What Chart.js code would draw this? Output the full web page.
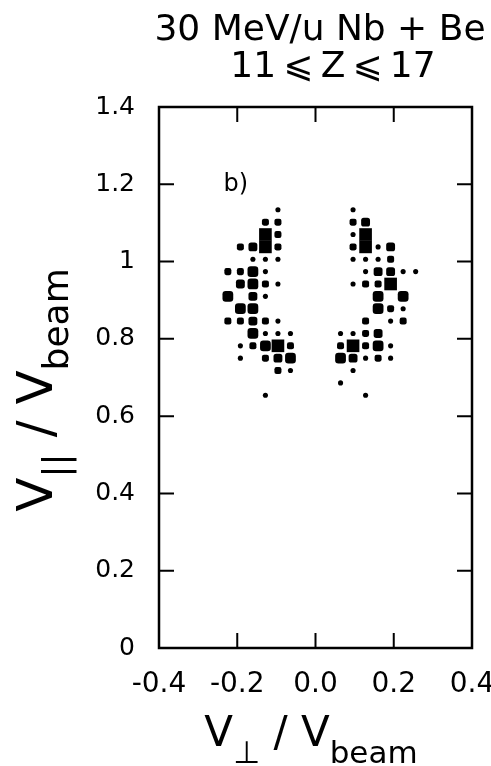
<!DOCTYPE html>
<html><head><meta charset="utf-8">
<script src="https://cdn.jsdelivr.net/npm/chart.js@4.4.1/dist/chart.umd.min.js"></script>
<style>html,body{margin:0;padding:0;background:#fff;}canvas{display:block;}</style>
</head><body>
<canvas id="c" width="491" height="766" style="width:491px;height:766px"></canvas>
<script>
// ---- data ----
const titleLine1 = '30 MeV/u Nb + Be';
const titleLine2 = '11\u2009\u2A7D\u2009Z\u2009\u2A7D\u200917';
const panelLabel = 'b)';
const xTickValues = [-0.4, -0.2, 0, 0.2, 0.4];
const xTickLabels = ['-0.4', '-0.2', '0.0', '0.2', '0.4'];
const yTickValues = [0, 0.2, 0.4, 0.6, 0.8, 1, 1.2, 1.4];
const yTickLabels = ['0', '0.2', '0.4', '0.6', '0.8', '1', '1.2', '1.4'];
const binWidth = 0.032;

const leftVperp = [-0.096,-0.128,-0.096,-0.128,-0.096,-0.192,-0.160,-0.128,-0.096,-0.160,-0.128,-0.096,
  -0.224,-0.192,-0.160,-0.128,-0.192,-0.160,-0.128,-0.096,-0.224,-0.160,-0.128,-0.192,-0.160,
  -0.224,-0.192,-0.160,-0.128,-0.096,-0.160,-0.128,-0.096,-0.064,-0.192,-0.160,-0.128,-0.096,-0.064,
  -0.192,-0.128,-0.096,-0.064,-0.096,-0.064,-0.128];
const leftVpar = [1.134,1.102,1.102,1.070,1.070,1.038,1.038,1.038,1.038,1.006,1.006,1.006,
  0.974,0.974,0.974,0.974,0.942,0.942,0.942,0.942,0.910,0.910,0.910,0.878,0.878,
  0.846,0.846,0.846,0.846,0.846,0.814,0.814,0.814,0.814,0.782,0.782,0.782,0.782,0.782,
  0.750,0.750,0.750,0.750,0.718,0.718,0.654];
const leftCount = [1,2,2,5,2,2,3,5,2,1,1,1,
  2,2,4,1,3,4,2,1,4,3,1,4,4,
  2,2,3,2,1,4,1,1,1,1,2,4,5,2,
  1,2,3,4,2,1,1];

const rightVperp = [0.096,0.096,0.128,0.096,0.128,0.096,0.128,0.160,0.192,0.096,0.128,0.160,0.192,
  0.128,0.160,0.192,0.224,0.256,0.096,0.128,0.160,0.192,0.160,0.224,0.160,0.192,0.224,
  0.128,0.192,0.224,0.064,0.096,0.128,0.160,0.064,0.096,0.128,0.160,0.192,
  0.064,0.096,0.128,0.160,0.192,0.096,0.064,0.128];
const rightVpar = [1.134,1.102,1.102,1.070,1.070,1.038,1.038,1.038,1.038,1.006,1.006,1.006,1.006,
  0.974,0.974,0.974,0.974,0.974,0.942,0.942,0.942,0.942,0.910,0.910,0.878,0.878,0.878,
  0.846,0.846,0.846,0.814,0.814,0.814,0.814,0.782,0.782,0.782,0.782,0.782,
  0.750,0.750,0.750,0.750,0.750,0.718,0.686,0.654];
const rightCount = [1,2,3,1,5,2,5,1,3,1,1,1,2,
  1,3,3,1,1,1,2,2,5,4,4,4,2,1,
  2,1,2,1,1,2,3,2,5,2,4,1,
  4,3,1,2,1,1,1,1];

// ---- build ----
const FONT = 'DejaVu Sans';
function pts(xs, ys, cs) { return xs.map((x, i) => ({ x: x, y: ys[i], c: cs[i] })); }

function sidePx(ctx) {
  const xs = ctx.chart.scales.x;
  const bin = Math.abs(xs.getPixelForValue(binWidth) - xs.getPixelForValue(0));
  const c = ctx.raw ? ctx.raw.c : 1;
  return bin * (0.26 + 0.15 * c);
}
function styleFor(ctx) {
  const c = ctx.raw ? ctx.raw.c : 1;
  if (c <= 1) return 'circle';
  if (c >= 5) return 'rect';
  return 'rectRounded';
}
function radiusFor(ctx) {
  const s = sidePx(ctx);
  const st = styleFor(ctx);
  if (st === 'circle') return s / 2;
  if (st === 'rect') return s / 1.4142;
  return s / 1.716;
}

const pointDs = (data) => ({
  data: data,
  backgroundColor: '#000',
  borderWidth: 0,
  pointStyle: styleFor,
  pointRadius: radiusFor,
  pointHoverRadius: radiusFor
});

function drawRich(ctx, parts, cx, cy, rot, mainFont, subFont, subDy) {
  ctx.save();
  ctx.translate(cx, cy);
  ctx.rotate(rot);
  ctx.textBaseline = 'alphabetic';
  ctx.textAlign = 'left';
  ctx.fillStyle = '#000';
  const w = parts.map(p => { ctx.font = p.sub ? subFont : mainFont; return ctx.measureText(p.t).width; });
  let x = -w.reduce((a, b) => a + b, 0) / 2;
  parts.forEach((p, i) => {
    ctx.font = p.sub ? subFont : mainFont;
    ctx.fillText(p.t, x, p.sub ? subDy : 0);
    x += w[i];
  });
  ctx.restore();
}

const framePlugin = {
  id: 'frame',
  afterDraw(chart) {
    const ctx = chart.ctx;
    const a = chart.chartArea;
    const xs = chart.scales.x, ys = chart.scales.y;
    ctx.save();
    ctx.strokeStyle = '#000';
    ctx.lineWidth = 2.5;
    ctx.strokeRect(a.left, a.top, a.right - a.left, a.bottom - a.top);
    ctx.lineWidth = 2;
    const tl = 15;
    ctx.beginPath();
    xTickValues.forEach(v => {
      if (v === xs.min || v === xs.max) return;
      const px = xs.getPixelForValue(v);
      ctx.moveTo(px, a.bottom); ctx.lineTo(px, a.bottom - tl);
      ctx.moveTo(px, a.top); ctx.lineTo(px, a.top + tl);
    });
    yTickValues.forEach(v => {
      if (v === ys.min || v === ys.max) return;
      const py = ys.getPixelForValue(v);
      ctx.moveTo(a.left, py); ctx.lineTo(a.left + tl, py);
      ctx.moveTo(a.right, py); ctx.lineTo(a.right - tl, py);
    });
    ctx.stroke();

    // titles
    ctx.fillStyle = '#000';
    ctx.textAlign = 'center';
    ctx.textBaseline = 'alphabetic';
    ctx.font = '36px "' + FONT + '"';
    ctx.fillText(titleLine1, 320, 40);
    ctx.fillText(titleLine2, 333, 77);

    // panel label
    ctx.font = '24px "' + FONT + '"';
    ctx.textAlign = 'left';
    ctx.textBaseline = 'middle';
    ctx.fillText(panelLabel, xs.getPixelForValue(-0.235), ys.getPixelForValue(1.2));

    // axis titles
    drawRich(ctx, [{t: 'V'}, {t: '\u22A5', sub: true}, {t: ' / '}, {t: 'V'}, {t: 'beam', sub: true}],
      311, 746, 0, '42px "' + FONT + '"', '31px "' + FONT + '"', 17);
    drawRich(ctx, [{t: 'V'}, {t: '||', sub: true}, {t: ' / '}, {t: 'V'}, {t: 'beam', sub: true}],
      52, 390, -Math.PI / 2, '50px "' + FONT + '"', '36px "' + FONT + '"', 16);
    ctx.restore();
  }
};

new Chart(document.getElementById('c'), {
  type: 'scatter',
  data: { datasets: [pointDs(pts(leftVperp, leftVpar, leftCount)), pointDs(pts(rightVperp, rightVpar, rightCount))] },
  options: {
    responsive: false,
    animation: false,
    devicePixelRatio: 1,
    layout: { padding: { top: 107, right: 19, left: 0, bottom: 0 } },
    plugins: { legend: { display: false }, tooltip: { enabled: false }, title: { display: false } },
    scales: {
      x: {
        type: 'linear', min: -0.4, max: 0.4,
        afterBuildTicks: s => { s.ticks = xTickValues.map(v => ({ value: v })); },
        afterFit: s => { s.height = 118; s.paddingLeft = 0; s.paddingRight = 0; },
        ticks: {
          callback: v => xTickLabels[xTickValues.findIndex(t => Math.abs(t - v) < 1e-9)],
          font: { family: FONT, size: 28 }, color: '#000', padding: 20, maxRotation: 0, autoSkip: false
        },
        grid: { display: false, drawTicks: false },
        border: { display: false }
      },
      y: {
        type: 'linear', min: 0, max: 1.4,
        afterBuildTicks: s => { s.ticks = yTickValues.map(v => ({ value: v })); },
        afterFit: s => { s.width = 159; s.paddingTop = 0; s.paddingBottom = 0; },
        ticks: {
          callback: v => yTickLabels[yTickValues.findIndex(t => Math.abs(t - v) < 1e-9)],
          font: { family: FONT, size: 25 }, color: '#000', padding: 24, autoSkip: false
        },
        grid: { display: false, drawTicks: false },
        border: { display: false }
      }
    }
  },
  plugins: [framePlugin]
});
</script>
</body></html>
